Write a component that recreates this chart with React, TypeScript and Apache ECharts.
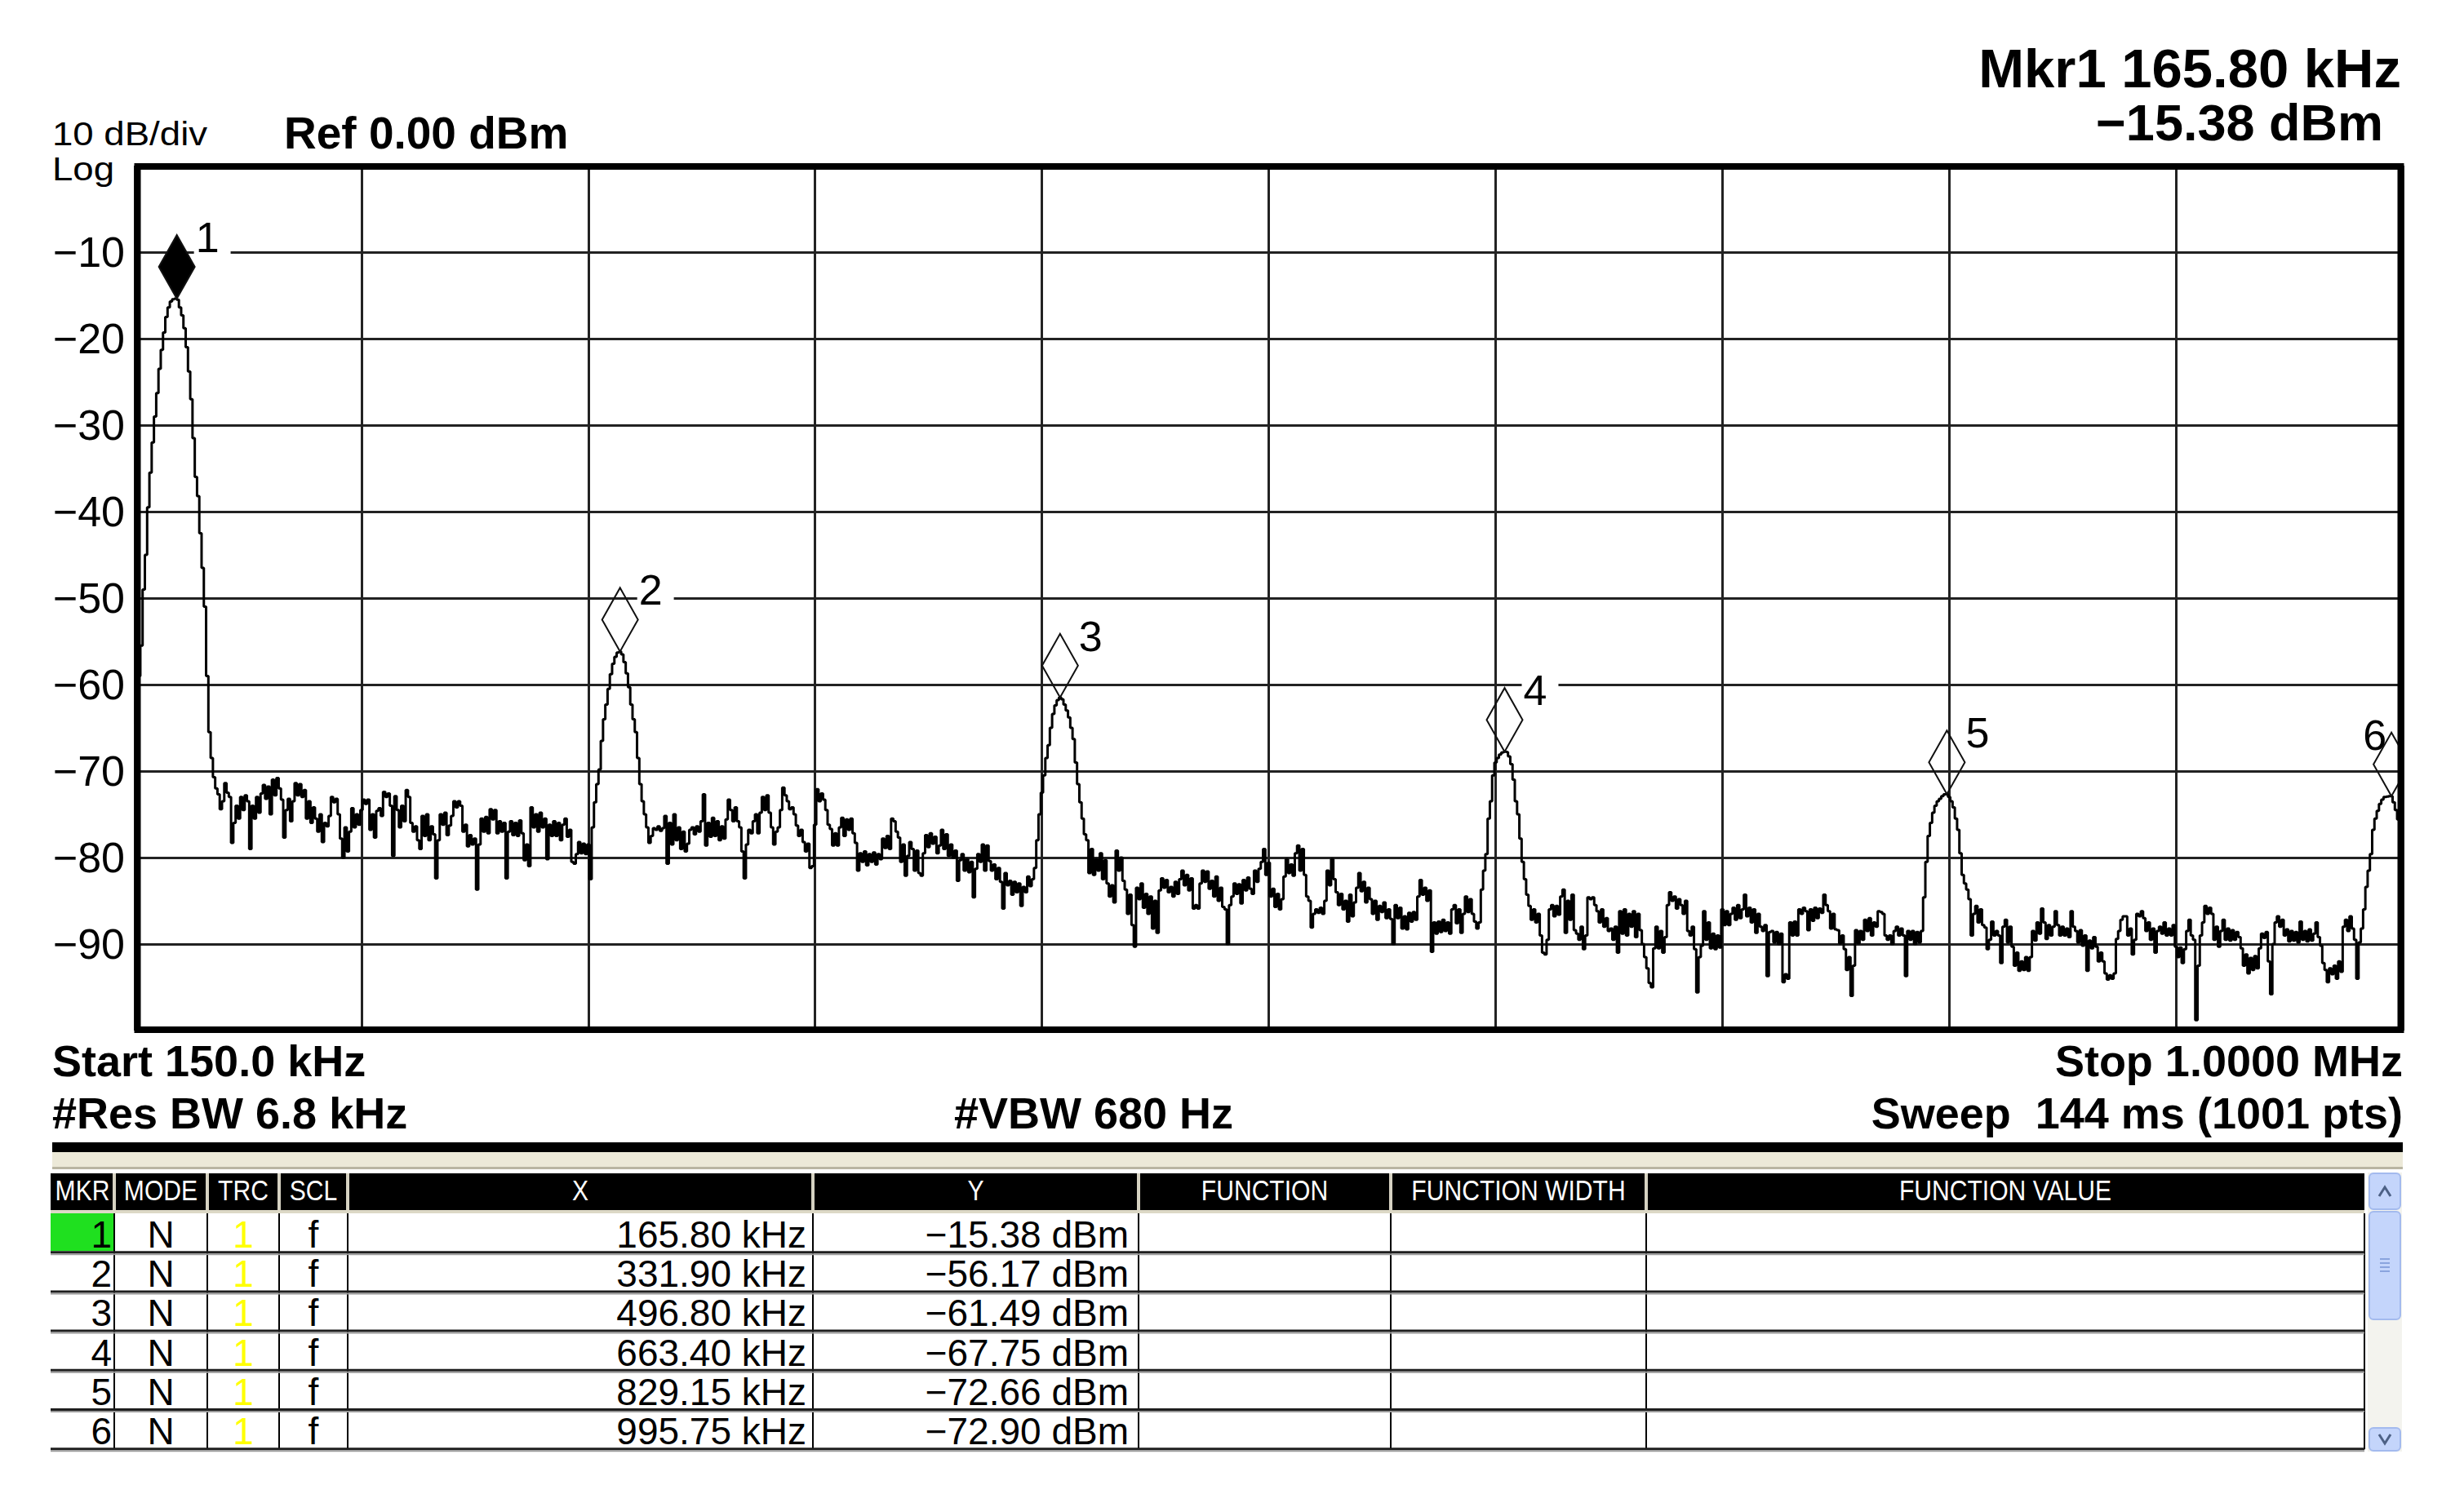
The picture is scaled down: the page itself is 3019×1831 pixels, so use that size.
import React, { useEffect, useRef } from 'react';
import * as echarts from 'echarts';

// ---------- sweep settings ----------
const START_KHZ = 150.0;
const STOP_KHZ = 1000.0;
const POINTS = 1001;
const STEP_KHZ = (STOP_KHZ - START_KHZ) / (POINTS - 1);

// ---------- trace (dBm), one array per horizontal division ----------
const div1 = [-64.5,-62,-59,-55.5,-49,-45,-39.5,-35.5,-32,-29,
-26.3,-23.5,-21.3,-19.3,-17.5,-16.4,-15.7,-15.45,-15.38,-15.5,
-16.4,-17.3,-18.8,-21,-23.8,-27,-31.5,-36,-38.2,-42.5,
-46.5,-51,-59,-65.5,-68.5,-70.7,-72,-72.7,-74.4,-73.5,
-71.4,-72.5,-73,-78.3,-76,-74,-75.5,-73,-74.5,-72.8,
-73.5,-79,-74,-75.5,-73,-74.8,-72.6,-71.6,-73.2,-71.8,
-75,-71,-72.8,-70.8,-72,-73.3,-77.7,-74.5,-73.2,-75.8,
-73.5,-71.4,-72.8,-71.5,-73,-72.2,-75.5,-73.5,-76,-74.2,
-75.5,-77,-75,-78.2,-76,-76.4,-75.2,-73,-73.6,-73.2,
-75,-77.8,-80,-76.5,-79.3,-77,-74.3,-76.5,-75,-76.2];
const div2 = [-74.5,-73.3,-73.8,-73.3,-76.8,-75,-77.7,-74.6,-74.3,-75.2,
-72.4,-73,-72.6,-74,-79.8,-72.9,-74.5,-76.5,-74,-75.8,
-72.2,-73,-76,-77,-76.4,-78,-79,-75.2,-77.5,-75,
-78,-76.4,-77.3,-82.4,-78,-75,-76.2,-74.8,-77.4,-76.3,
-75.2,-73.5,-74.2,-73.5,-74,-77,-76.2,-78.7,-77.4,-78.5,
-77.8,-83.7,-78.5,-75.5,-77,-75.3,-77.2,-74.4,-75.6,-74.5,
-77.2,-75.8,-77,-76,-82.4,-77,-75.8,-77.4,-76,-77.5,
-75.7,-77.2,-80.3,-78.5,-81,-74.2,-76.5,-75,-77,-74.8,
-76.5,-75.5,-80.2,-76.2,-77.5,-75.8,-77.5,-76,-78,-76.2,
-75.5,-77.6,-76.8,-80.5,-80.7,-79.6,-78.2,-79.5,-78.4,-79.6];
const div3 = [-78.5,-82.5,-76.5,-73.6,-71.5,-69.8,-66.5,-64,-62.3,-60.5,
-58.8,-57.6,-56.8,-56.3,-56.17,-56.5,-57.4,-58.7,-60.3,-62.3,
-64,-65.5,-68.5,-71.5,-73.5,-75,-76.5,-78.3,-77.5,-76.6,
-76.8,-76.4,-76.9,-76.6,-75.2,-80.7,-76,-78.5,-75,-78,
-76.5,-79,-77,-79.3,-78.4,-76.8,-76.5,-77.3,-76.4,-77,
-75.8,-72.7,-78.6,-76,-77.6,-75.4,-77.5,-75.8,-78,-76.4,
-77.8,-75.6,-73.3,-74.5,-75.8,-74.2,-75.8,-76.5,-79.3,-82.4,
-78.5,-76.8,-77.2,-75.8,-75,-77.2,-74.8,-73,-74.5,-72.8,
-74.8,-76.5,-78.5,-77,-76.5,-74.5,-71.9,-72.8,-73.5,-74.4,
-74.2,-75,-76.3,-77.5,-76.8,-78.2,-79.3,-78.4,-81.2,-81];
const div4 = [-76.2,-72.1,-73.5,-72.6,-73.3,-74.5,-76.2,-76.7,-78.6,-77.2,
-78.6,-76.5,-75.4,-77.5,-75.6,-76.8,-75.5,-77.2,-78.3,-81.5,
-79.5,-80.5,-79.3,-80.9,-79.6,-80.5,-79.4,-80.8,-79.6,-80.2,
-77.8,-78.9,-77.5,-79,-75.5,-75.8,-77,-77.7,-80.5,-78.5,
-82.1,-79.8,-78.2,-79,-81.5,-79.2,-81.8,-82.1,-79.5,-77.4,
-78.8,-77.2,-78.4,-77.6,-79.5,-78.6,-76.8,-79,-77.3,-79.8,
-78.5,-80,-79.2,-82.7,-80.3,-79.6,-81.5,-80.2,-81.7,-80.5,
-84.6,-81.3,-79.6,-80.5,-78.5,-81.5,-78.6,-80.4,-81.5,-80.8,
-82.5,-81.2,-82.8,-85.9,-81.8,-83.2,-82.7,-84.3,-82.8,-84,
-83,-85.6,-83.4,-84,-82.2,-83.3,-82.5,-81.2,-78,-75];
const div5 = [-72.5,-70.5,-68.5,-67,-65,-63.4,-62.4,-61.8,-61.49,-61.7,
-62.3,-63,-63.8,-65,-66.3,-69,-71.5,-73.6,-75.5,-77.3,
-78,-81.8,-79,-82,-80.2,-81.5,-79.5,-82.5,-80.3,-83,
-84.5,-83.2,-85.2,-79.2,-81.5,-80,-82.7,-83.7,-86.5,-84.3,
-87.8,-90.3,-83.5,-84.8,-83,-85.8,-84.2,-86.5,-84.5,-88.2,
-85,-88.7,-83.8,-82.4,-83.5,-82.6,-84,-83.4,-84.5,-82.8,
-84.2,-82.5,-81.5,-83.2,-82,-83.8,-82.4,-85.9,-85.5,-85.9,
-83,-81.5,-82.8,-81.6,-83.6,-82.7,-84.5,-82.2,-85,-83.5,
-85.7,-86,-90,-85.5,-84.5,-83,-84.2,-83.1,-85.3,-82.6,
-83.8,-82.3,-83.6,-84.2,-81.5,-82.8,-81.3,-80.5,-79,-82];
const div6 = [-80.6,-84.5,-83.6,-85.7,-84.2,-86,-84.8,-82.2,-80.2,-81.8,
-80.8,-82.1,-79.5,-78.6,-81.5,-79,-82,-84.5,-85,-88.1,
-86.5,-86,-86.4,-85.8,-86.5,-85,-81.5,-83.2,-80.2,-82.5,
-84,-85.5,-84.2,-86,-85,-87.4,-84.3,-86.8,-85.2,-83.5,
-81.8,-83.9,-82.8,-85.2,-83.5,-84.8,-86.5,-85,-87.2,-85.6,
-86.3,-85.2,-87,-86,-87.1,-90,-85.5,-87,-85.8,-88.2,
-86.8,-88.3,-86.4,-87.4,-86.3,-87.2,-84.5,-82.6,-84.3,-83.5,
-85,-83.8,-90.9,-87.5,-88.8,-87.4,-88.6,-87.2,-88.5,-87.5,
-88.8,-86,-85.5,-87.6,-86,-88.7,-86.5,-84.5,-86.3,-84.8,
-86.5,-87.4,-88.2,-87.5,-83.7,-81.5,-79.6,-75.5,-73.5,-70.5];
const div7 = [-69,-68.5,-68.1,-67.85,-67.75,-67.8,-68.3,-69.2,-71,-73.5,
-75,-77.8,-80.5,-82.5,-84.3,-85.6,-87.2,-86,-87.5,-86.5,
-89,-91,-91.2,-89.5,-86,-85.5,-86.8,-85.6,-86.6,-84.5,
-83.7,-88.7,-85,-87.2,-84.3,-88.4,-88.8,-89.5,-88,-90.6,
-89,-84.6,-84.8,-84.6,-85.5,-86.2,-87.5,-86,-88,-87,
-88.5,-88.2,-89.5,-88,-91,-86.2,-88.8,-86,-89,-86.5,
-88,-86.2,-89.2,-86.5,-88.4,-90,-91.5,-92.8,-94.5,-95,
-90.5,-88,-90.5,-88.5,-91,-89.2,-85.5,-84,-85,-84.5,
-85.9,-84.8,-85.5,-86.5,-85,-88.5,-89,-88,-90.6,-95.6,
-91.5,-90.2,-86.2,-89.5,-87.5,-90.5,-88.8,-90.6,-89,-90.4];
const div8 = [-86,-87.8,-86.2,-87.8,-86.5,-85.8,-87.2,-85.5,-87,-86,
-84.3,-86.8,-85.8,-87.5,-86,-88.7,-86.5,-88,-88.5,-87.8,
-93.7,-88.6,-88.5,-89.8,-88.6,-90,-88.8,-94.4,-93.5,-94,
-87.5,-89,-87.4,-89,-86,-86.5,-85.8,-86.2,-88.4,-86,
-87.3,-85.8,-87,-85.9,-86.4,-84.3,-85.5,-86.2,-88.2,-86.5,
-88.3,-88.4,-89.9,-89,-90.6,-93,-91.5,-96,-92.5,-88.4,
-89.9,-88.5,-89.5,-87.2,-88.5,-87,-89,-87.5,-88,-86.2,
-86.3,-86.5,-89,-89.5,-89,-90,-88.5,-88,-89,-88.2,
-89,-93.7,-88.5,-89.5,-88.5,-90,-88.6,-89.8,-88.5,-84.6,
-80.5,-77.5,-76,-74.8,-74,-73.5,-73.2,-72.9,-72.7,-72.66];
const div9 = [-73,-73.5,-74.2,-75.5,-76.8,-79.5,-82,-83,-83.7,-84.8,
-89,-86.5,-85.6,-87.5,-86,-87.8,-88.1,-90.6,-89.5,-87.4,
-89,-88.5,-89,-92.2,-88,-87.2,-89.8,-88,-90.3,-92.5,
-91,-93.1,-92,-93,-91.5,-93.1,-91.5,-88.5,-89.6,-87.5,
-88.8,-85.9,-87.5,-89.4,-87.8,-89,-88,-86.2,-87.8,-89,
-88,-89,-88.2,-89.2,-86.2,-88,-88.5,-89.8,-88.4,-90.2,
-89,-93.1,-89.6,-90.5,-89.2,-90.3,-92,-91,-92,-93.4,
-94.1,-93.6,-94,-93.4,-89.4,-88.5,-87.2,-86.8,-86.8,-89,
-88.2,-91.2,-89.5,-86.5,-86.8,-86.2,-87,-88.5,-87.5,-89.5,
-88.2,-91,-88.5,-88,-88.8,-87.5,-89,-88.2,-89,-87.8];
const div10 = [-90.3,-91.5,-90.4,-92.2,-90.6,-88.5,-87.2,-89,-89.5,-98.8,
-92.5,-89,-87.5,-85.6,-86.5,-85.8,-86.5,-89.5,-88,-90.3,
-88.5,-87.2,-89.5,-88.2,-89.6,-88.4,-89.5,-88.6,-89.2,-90.5,
-92.5,-91.2,-93.4,-91.6,-93,-91.4,-92.8,-90.5,-88.8,-89.3,
-88.6,-92,-95.8,-90,-87.5,-86.8,-88,-87.2,-89,-88.3,
-89.7,-88.5,-89.6,-88.6,-89.8,-87.4,-89.5,-88.5,-89.7,-88.3,
-89.6,-88.8,-87.5,-89.2,-90.2,-92.2,-93,-94.4,-92.8,-93.5,
-92.5,-94,-92,-93.2,-88,-87.2,-88.5,-86.8,-88.2,-89.5,
-94,-89.8,-88.2,-86,-83.4,-81.5,-79.6,-76.8,-75.5,-74.6,
-73.8,-73.3,-73,-72.95,-72.9,-72.9,-73.6,-74.5,-75.6,-77,
-78.5];

// ---------- markers ----------
const markerNum = [1, 2, 3, 4, 5, 6];
const markerMode = ['N', 'N', 'N', 'N', 'N', 'N'];
const markerTrace = ['1', '1', '1', '1', '1', '1'];
const markerScale = ['f', 'f', 'f', 'f', 'f', 'f'];
const markerFreqKHz = [165.80, 331.90, 496.80, 663.40, 829.15, 995.75];
const markerAmpDbm = [-15.38, -56.17, -61.49, -67.75, -72.66, -72.90];

// ---------- axis ticks ----------
const yTickValues = [-90, -80, -70, -60, -50, -40, -30, -20, -10];
const yTickLabels = ['\u221290', '\u221280', '\u221270', '\u221260', '\u221250', '\u221240', '\u221230', '\u221220', '\u221210'];

// ---------- table headers ----------
const tableHeaders = ['MKR', 'MODE', 'TRC', 'SCL', 'X', 'Y', 'FUNCTION', 'FUNCTION WIDTH', 'FUNCTION VALUE'];

const FONT = '"Liberation Sans", Arial, Helvetica, sans-serif';

function txt(text: string, x: number, y: number, size: number, opts: any = {}) {
  const align = opts.align || 'left';
  return {
    type: 'text',
    x,
    y,
    z: opts.z ?? 60,
    scaleX: opts.scaleX ?? 1,
    silent: true,
    style: {
      text,
      x: 0,
      y: 0,
      font: `${opts.bold ? 'bold ' : ''}${size}px ${FONT}`,
      fill: opts.color || '#000',
      align,
      textAlign: align,
      verticalAlign: 'middle',
      textVerticalAlign: 'middle',
    },
  };
}

function box(x: number, y: number, w: number, h: number, fill: string, extra: any = {}) {
  return {
    type: 'rect',
    z: extra.z ?? 40,
    silent: true,
    shape: { x, y, width: w, height: h, r: extra.r ?? 0 },
    style: { fill, stroke: extra.stroke ?? null, lineWidth: extra.lineWidth ?? 0 },
  };
}

export default function App() {
  const ref = useRef<HTMLDivElement>(null);

  useEffect(() => {
    if (!ref.current) return;
    const chart = echarts.init(ref.current, null, { renderer: 'svg' });

    const trace = [...div1, ...div2, ...div3, ...div4, ...div5, ...div6, ...div7, ...div8, ...div9, ...div10];
    const traceData = trace.map((v, i) => [i, v]);
    const markerData = markerFreqKHz.map((f, k) => [(f - START_KHZ) / STEP_KHZ, markerAmpDbm[k], k]);

    const fmtDbm = (v: number) => (v < 0 ? '\u2212' : '') + Math.abs(v).toFixed(2) + ' dBm';
    const fmtKHz = (v: number) => v.toFixed(2) + ' kHz';

    const G = { left: 165, top: 203, width: 2779, height: 1060 };

    const graphics: any[] = [];

    // plot frame
    graphics.push({
      type: 'rect', z: 80, silent: true,
      shape: { x: 168.5, y: 204, width: 2773, height: 1058 },
      style: { fill: 'none', stroke: '#000', lineWidth: 8 },
    });

    // header texts
    graphics.push(txt('10 dB/div', 64, 164, 40, { scaleX: 1.14 }));
    graphics.push(txt('Log', 64, 207, 40, { scaleX: 1.14 }));
    graphics.push(txt('Ref 0.00 dBm', 348, 163, 55, { bold: true }));
    graphics.push(txt(`Mkr${markerNum[0]} ${fmtKHz(markerFreqKHz[0])}`, 2942, 83, 67, { bold: true, align: 'right' }));
    graphics.push(txt(fmtDbm(markerAmpDbm[0]), 2920, 150, 63, { bold: true, align: 'right' }));

    // footer texts
    graphics.push(txt(`Start ${START_KHZ.toFixed(1)} kHz`, 64, 1300, 54, { bold: true }));
    graphics.push(txt(`Stop ${(STOP_KHZ / 1000).toFixed(4)} MHz`, 2944, 1300, 54, { bold: true, align: 'right' }));
    graphics.push(txt('#Res BW 6.8 kHz', 64, 1364, 54, { bold: true }));
    graphics.push(txt('#VBW 680 Hz', 1169, 1364, 54, { bold: true }));
    graphics.push(txt('Sweep  144 ms (1001 pts)', 2944, 1364, 54, { bold: true, align: 'right' }));

    // separator bars
    graphics.push(box(64, 1400, 2880, 12, '#000'));
    graphics.push(box(64, 1412, 2880, 20, '#ece9d8'));
    graphics.push(box(64, 1430, 2880, 3, '#b9b5a2'));

    // table header
    const colEdges = [62, 140, 254, 342, 426, 996, 1395, 1704, 2017, 2897];
    const headTop = 1438;
    const headH = 45;
    graphics.push(box(62, headTop, 2835, headH, '#000'));
    graphics.push(box(62, headTop + headH, 2835, 4, '#dcd8c6'));
    for (let c = 1; c < colEdges.length - 1; c++) {
      graphics.push(box(colEdges[c] - 2, headTop, 4, headH, '#d6d2c2', { z: 41 }));
    }
    tableHeaders.forEach((h, c) => {
      const cx = (colEdges[c] + colEdges[c + 1]) / 2;
      graphics.push(txt(h, cx, headTop + 21, 35, { color: '#fff', align: 'center', scaleX: 0.86 }));
    });

    // table rows
    const rowTop = 1487;
    const rowH = 48.2;
    markerNum.forEach((n, k) => {
      const top = rowTop + k * rowH;
      const cy = top + 26;
      if (k === 0) graphics.push(box(62, top, 78, rowH - 2, '#1fe01f', { z: 39 }));
      graphics.push(txt(String(n), 137, cy, 46, { align: 'right' }));
      graphics.push(txt(markerMode[k], (colEdges[1] + colEdges[2]) / 2, cy, 46, { align: 'center' }));
      graphics.push(txt(markerTrace[k], (colEdges[2] + colEdges[3]) / 2, cy, 46, { align: 'center', color: '#ffff00' }));
      graphics.push(txt(markerScale[k], (colEdges[3] + colEdges[4]) / 2, cy, 46, { align: 'center' }));
      graphics.push(txt(fmtKHz(markerFreqKHz[k]), 988, cy, 46, { align: 'right' }));
      graphics.push(txt(fmtDbm(markerAmpDbm[k]), 1383, cy, 46, { align: 'right' }));
      const ly = top + rowH;
      graphics.push(box(62, ly - 2, 2835, 3, '#1e1e1e', { z: 42 }));
      graphics.push(box(62, ly + 1, 2835, 2, '#9a9a9a', { z: 42 }));
    });
    for (let c = 1; c < colEdges.length; c++) {
      graphics.push({
        type: 'line', z: 41, silent: true,
        shape: { x1: colEdges[c], y1: rowTop, x2: colEdges[c], y2: rowTop + 6 * rowH },
        style: { stroke: '#000', lineWidth: 2 },
      });
    }

    // scrollbar
    const sbX = 2903;
    graphics.push(box(2901, 1437, 42, 342, '#f3f3ee', { z: 40 }));
    graphics.push(box(sbX, 1438, 38, 44, '#c4d5fb', { z: 41, r: 5, stroke: '#a3baee', lineWidth: 2 }));
    graphics.push({
      type: 'polyline', z: 42, silent: true,
      shape: { points: [[sbX + 12, 1466], [sbX + 19, 1455], [sbX + 26, 1466]] },
      style: { stroke: '#4d6185', lineWidth: 3, fill: 'none' },
    });
    graphics.push(box(sbX, 1485, 38, 132, '#c4d5fb', { z: 41, r: 5, stroke: '#a3baee', lineWidth: 2 }));
    [1543, 1548, 1553, 1558].forEach((gy) => {
      graphics.push({
        type: 'line', z: 42, silent: true,
        shape: { x1: sbX + 13, y1: gy, x2: sbX + 25, y2: gy },
        style: { stroke: '#8aa4de', lineWidth: 2 },
      });
    });
    graphics.push(box(sbX, 1750, 38, 28, '#c4d5fb', { z: 41, r: 5, stroke: '#a3baee', lineWidth: 2 }));
    graphics.push({
      type: 'polyline', z: 42, silent: true,
      shape: { points: [[sbX + 12, 1758], [sbX + 19, 1769], [sbX + 26, 1758]] },
      style: { stroke: '#4d6185', lineWidth: 3, fill: 'none' },
    });

    const option: any = {
      animation: false,
      backgroundColor: '#ffffff',
      grid: { left: G.left, top: G.top, width: G.width, height: G.height, containLabel: false },
      xAxis: {
        type: 'value',
        min: 0,
        max: POINTS - 1,
        interval: 100,
        axisLine: { show: false },
        axisTick: { show: false },
        axisLabel: { show: false },
        splitLine: { show: true, lineStyle: { color: '#222', width: 3 } },
      },
      yAxis: {
        type: 'value',
        min: -100,
        max: 0,
        interval: 10,
        axisLine: { show: false },
        axisTick: { show: false },
        axisLabel: {
          show: true,
          margin: 12,
          color: '#000',
          fontSize: 52,
          fontFamily: FONT,
          formatter: (v: number) => {
            const idx = yTickValues.indexOf(v);
            return idx >= 0 ? yTickLabels[idx] : '';
          },
        },
        splitLine: { show: true, lineStyle: { color: '#222', width: 3 } },
      },
      series: [
        {
          type: 'line',
          data: traceData,
          step: 'middle',
          showSymbol: false,
          symbol: 'none',
          clip: true,
          z: 3,
          lineStyle: { color: '#000', width: 3 },
        },
        {
          type: 'custom',
          data: markerData,
          clip: true,
          z: 5,
          renderItem: (params: any, api: any) => {
            const k = api.value(2);
            const p = api.coord([api.value(0), api.value(1)]);
            const cs = params.coordSys;
            const hw = 22;
            const h = 78;
            const onLeft = p[0] + 70 > cs.x + cs.width;
            const align = onLeft ? 'right' : 'left';
            const labelStyle: any = {
              text: String(markerNum[k]),
              font: `52px ${FONT}`,
              fill: '#000',
              align,
              textAlign: align,
              verticalAlign: 'middle',
              textVerticalAlign: 'middle',
            };
            if (!onLeft) {
              labelStyle.backgroundColor = '#fff';
              labelStyle.padding = [2, 14, 2, 2];
            }
            return {
              type: 'group',
              children: [
                {
                  type: 'polygon',
                  shape: { points: [[p[0], p[1]], [p[0] - hw, p[1] - h / 2], [p[0], p[1] - h], [p[0] + hw, p[1] - h / 2]] },
                  style: { fill: k === 0 ? '#000' : 'none', stroke: '#111', lineWidth: 2 },
                },
                {
                  type: 'text',
                  x: onLeft ? p[0] - 6 : p[0] + 21,
                  y: p[1] - 75,
                  style: labelStyle,
                },
              ],
            };
          },
        },
      ],
      graphic: { elements: graphics },
    };

    chart.setOption(option);
    return () => chart.dispose();
  }, []);

  return (
    <div
      ref={ref}
      style={{ position: 'fixed', left: 0, top: 0, width: 3019, height: 1831, background: '#fff' }}
    />
  );
}
